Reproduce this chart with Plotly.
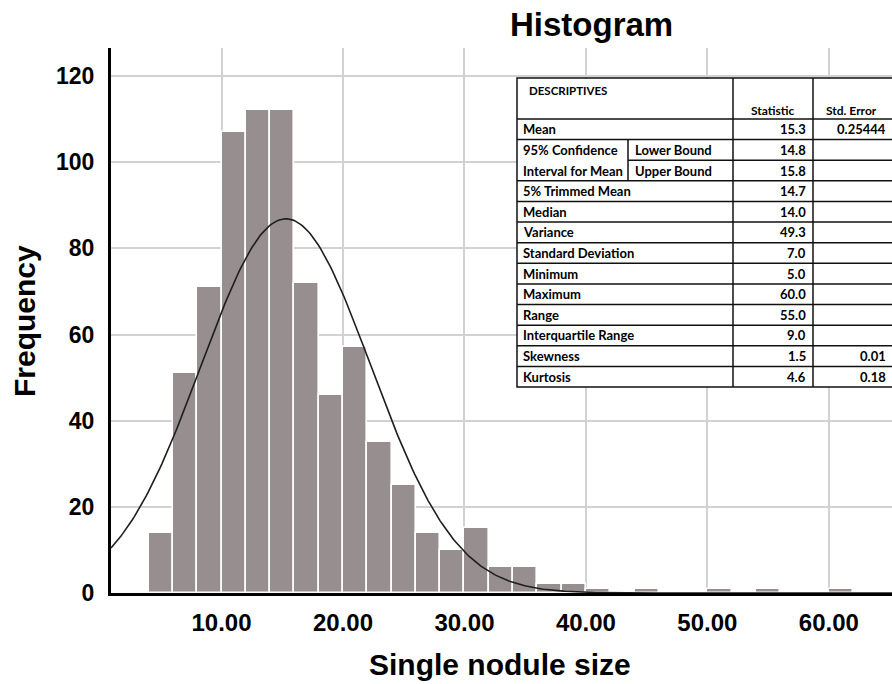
import numpy as np
import plotly.graph_objects as go

# ---- histogram data (bin width 2, bins start at 4) ----
BIN_START = 4
BIN_WIDTH = 2
COUNTS = [14, 51, 71, 107, 112, 112, 72, 46, 57, 35, 25, 14, 10, 15, 6, 6,
          2, 2, 1, 0, 1, 0, 0, 1, 0, 1, 0, 0, 1]

# ---- descriptives table ----
ROW_LABELS = ["Mean", "Lower Bound", "Upper Bound", "5% Trimmed Mean", "Median",
              "Variance", "Standard Deviation", "Minimum", "Maximum", "Range",
              "Interquartile Range", "Skewness", "Kurtosis"]
GROUP_LABELS = ["95% Confidence", "Interval for Mean"]
STAT_VALUES = ["15.3", "14.8", "15.8", "14.7", "14.0", "49.3", "7.0", "5.0",
               "60.0", "55.0", "9.0", "1.5", "4.6"]
STD_ERRORS = ["0.25444", "", "", "", "", "", "", "", "", "", "", "0.01", "0.18"]
MEAN = 15.3
SD = 7.0

X_TICKS = [10, 20, 30, 40, 50, 60]
X_TICK_TEXT = ["10.00", "20.00", "30.00", "40.00", "50.00", "60.00"]
Y_TICKS = [0, 20, 40, 60, 80, 100, 120]

centers = [BIN_START + BIN_WIDTH * (i + 0.5) for i in range(len(COUNTS))]
n_total = sum(COUNTS)

# normal curve scaled to counts
X_MIN, X_MAX = 0.9, 65.2
xs = np.linspace(X_MIN, X_MAX, 400)
ys = n_total * BIN_WIDTH * np.exp(-0.5 * ((xs - MEAN) / SD) ** 2) / (SD * np.sqrt(2 * np.pi))

fig = go.Figure()
fig.add_trace(go.Bar(
    x=centers, y=COUNTS, width=BIN_WIDTH,
    marker=dict(color="#978f8f", line=dict(color="white", width=1.6)),
    hoverinfo="skip", showlegend=False))
fig.add_trace(go.Scatter(
    x=xs, y=ys, mode="lines", line=dict(color="#1e1e1e", width=1.6),
    hoverinfo="skip", showlegend=False))

W, H = 892, 684
ML, MR, MT, MB = 111, 0, 48, 91
PW = W - ML - MR
PH = H - MT - MB


def px(x):
    return (x - ML) / PW


def py(y):
    return (H - MB - y) / PH


axis_font = dict(family="Liberation Sans, Arial, sans-serif", size=23, color="black", weight="bold")

fig.update_layout(
    width=W, height=H,
    margin=dict(l=ML, r=MR, t=MT, b=MB),
    paper_bgcolor="white", plot_bgcolor="white",
    bargap=0,
    xaxis=dict(range=[X_MIN, X_MAX], tickvals=X_TICKS, ticktext=X_TICK_TEXT,
               showgrid=True, gridcolor="#d2d2d2", gridwidth=1.5,
               showline=True, linecolor="black", linewidth=3, zeroline=False,
               ticks="", ticklabelstandoff=6, tickfont=dict(axis_font, size=24),
               layer="above traces"),
    yaxis=dict(range=[0, 126.5], tickvals=Y_TICKS,
               showgrid=True, gridcolor="#d2d2d2", gridwidth=1.5,
               showline=True, linecolor="black", linewidth=3, zeroline=False,
               ticks="", ticklabelstandoff=9, tickfont=axis_font,
               layer="above traces"),
)

annotations = [
    dict(text="Histogram", x=px(591), y=py(25), xref="paper", yref="paper",
         showarrow=False, xanchor="center", yanchor="middle",
         font=dict(family="Liberation Sans, Arial, sans-serif", size=33, color="black", weight="bold")),
    dict(text="Frequency", x=px(24), y=py(321), xref="paper", yref="paper",
         showarrow=False, xanchor="center", yanchor="middle", textangle=-90,
         font=dict(family="Liberation Sans, Arial, sans-serif", size=30, color="black", weight="bold")),
    dict(text="Single nodule size", x=px(500), y=py(664), xref="paper", yref="paper",
         showarrow=False, xanchor="center", yanchor="middle",
         font=dict(family="Liberation Sans, Arial, sans-serif", size=30, color="black", weight="bold")),
]

# ---- descriptives table drawn with shapes + text ----
T_LEFT, T_SPLIT, T_STAT, T_ERR, T_RIGHT = 517, 628, 733, 813, 894
T_TOP, T_HEAD = 78, 119
ROW_H = (387 - T_HEAD) / len(ROW_LABELS)
line_style = dict(color="#111111", width=1.5)
shapes = []


def hline(x0, x1, y):
    shapes.append(dict(type="line", xref="paper", yref="paper",
                       x0=px(x0), x1=px(x1), y0=py(y), y1=py(y), line=line_style))


def vline(x, y0, y1):
    shapes.append(dict(type="line", xref="paper", yref="paper",
                       x0=px(x), x1=px(x), y0=py(y0), y1=py(y1), line=line_style))


t_bottom = T_HEAD + ROW_H * len(ROW_LABELS)
shapes.append(dict(type="rect", xref="paper", yref="paper",
                   x0=px(T_LEFT), x1=px(T_RIGHT), y0=py(T_TOP), y1=py(t_bottom),
                   fillcolor="white", line=line_style))
hline(T_LEFT, T_RIGHT, T_HEAD)
vline(T_STAT, T_TOP, t_bottom)
vline(T_ERR, T_TOP, t_bottom)
for i in range(1, len(ROW_LABELS)):
    y = T_HEAD + ROW_H * i
    if i == 2:
        hline(T_SPLIT, T_RIGHT, y)
    else:
        hline(T_LEFT, T_RIGHT, y)
vline(T_SPLIT, T_HEAD + ROW_H, T_HEAD + ROW_H * 3)

tfont = dict(family="Lato, Open Sans, sans-serif", size=13, color="black", weight="bold")


def cell_text(text, x, y, anchor, size=13):
    annotations.append(dict(text=text, x=px(x), y=py(y), xref="paper", yref="paper",
                            showarrow=False, xanchor=anchor, yanchor="middle",
                            font=dict(tfont, size=size)))


cell_text("DESCRIPTIVES", 527, 91, "left", size=11.5)
cell_text("Statistic", (T_STAT + T_ERR) / 2, 110, "center", size=12)
cell_text("Std. Error", (T_ERR + T_RIGHT) / 2 - 2, 110, "center", size=12)

for i, (lab, sv, se) in enumerate(zip(ROW_LABELS, STAT_VALUES, STD_ERRORS)):
    yc = T_HEAD + ROW_H * (i + 0.5)
    if i in (1, 2):
        cell_text(GROUP_LABELS[i - 1], 521, yc, "left")
        cell_text(lab, T_SPLIT + 5, yc, "left")
    else:
        cell_text(lab, 521, yc, "left")
    cell_text(sv, T_ERR - 5, yc, "right")
    if se:
        cell_text(se, 888, yc, "right")

fig.update_layout(annotations=annotations, shapes=shapes)

fig.write_html("out.html")
